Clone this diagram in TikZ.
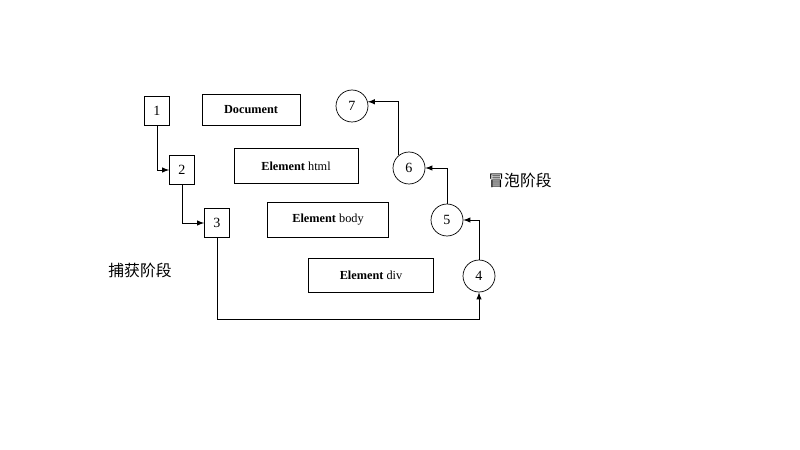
\documentclass[tikz,border=0pt]{standalone}
\usepackage{fontspec}
\setmainfont{Liberation Serif}
\newfontfamily\cjk{Noto Sans CJK SC}
\begin{document}
\begin{tikzpicture}[x=0.02cm,y=-0.02cm,
  num/.style={draw, minimum width=0.5cm, minimum height=0.58cm, inner sep=0pt, font=\fontsize{8}{9}\selectfont},
  elem/.style={draw, inner sep=0pt, font=\fontsize{7}{8}\selectfont},
  ring/.style={draw, circle, minimum size=0.64cm, inner sep=0pt, font=\fontsize{8}{9}\selectfont},
  flow/.style={-latex}]
\useasboundingbox (0,0) rectangle (800,449);
% capture side
\node[num] (n1) at (157,111) {1};
\node[num] (n2) at (182,170) {2};
\node[num] (n3) at (217,223) {3};
\node[elem, minimum width=1.96cm, minimum height=0.62cm] (doc) at (251,110) {\textbf{Document}};
\node[elem, minimum width=2.48cm, minimum height=0.7cm] (html) at (296,166) {\textbf{Element} html};
\node[elem, minimum width=2.42cm, minimum height=0.7cm] (body) at (328,220) {\textbf{Element} body};
\node[elem, minimum width=2.5cm, minimum height=0.68cm] (div) at (371,275) {\textbf{Element} div};
% bubble side
\node[ring] (c4) at (479,276) {4};
\node[ring] (c5) at (447,220) {5};
\node[ring] (c6) at (409,168) {6};
\node[ring] (c7) at (352,106) {7};
\coordinate (low) at (479,319);
\node[font=\cjk\fontsize{9}{10}\selectfont] (cap) at (140,270) {捕获阶段};
\node[font=\cjk\fontsize{9}{10}\selectfont] (bub) at (520,180) {冒泡阶段};
\draw[flow] (n1.south) |- (n2.west);
\draw[flow] (n2.south) |- (n3.west);
\draw[flow] (n3.south) |- (low) -- (c4.south);
\draw[flow] (c4.north) |- (c5.east);
\draw[flow] (c5.north) |- (c6.east);
\draw[flow] (c6.130) |- (c7.15);
\end{tikzpicture}
\end{document}
